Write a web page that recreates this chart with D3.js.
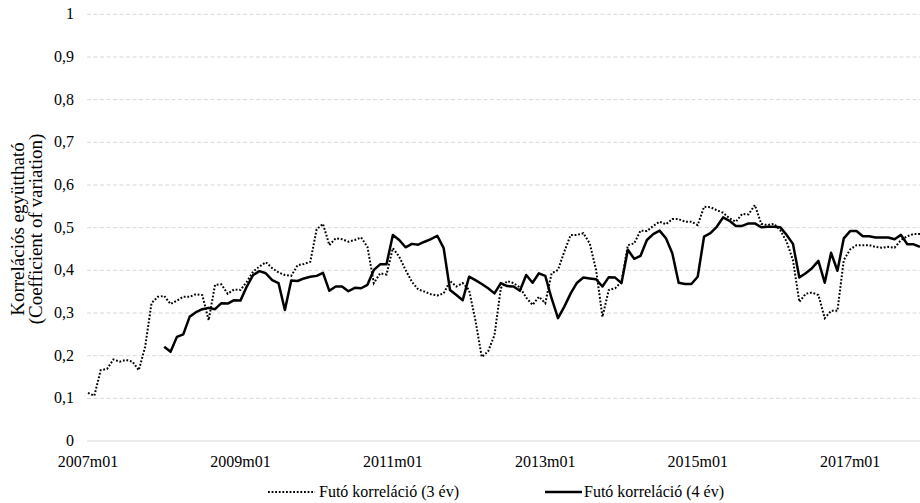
<!DOCTYPE html>
<html><head><meta charset="utf-8">
<script src="https://cdn.jsdelivr.net/npm/d3@7"></script>
<style>
body{margin:0;background:#fff;}
</style></head>
<body><svg id="c" width="920" height="503"></svg>
<script>
// categories: monthly 2007m01 .. 2017m12
const years = d3.range(2007, 2018);
const months = ["01","02","03","04","05","06","07","08","09","10","11","12"];
const categories = years.flatMap(y => months.map(m => y + "m" + m));
const xTickLabels = ["2007m01","2009m01","2011m01","2013m01","2015m01","2017m01"];
const yTicks = [0,0.1,0.2,0.3,0.4,0.5,0.6,0.7,0.8,0.9,1];

const series3 = [0.113,0.106,0.166,0.169,0.191,0.186,0.19,0.186,0.166,0.221,0.323,0.338,
0.34,0.321,0.329,0.338,0.338,0.344,0.342,0.283,0.366,0.367,0.345,0.355,
0.354,0.373,0.397,0.409,0.419,0.405,0.395,0.389,0.387,0.412,0.415,0.42,
0.496,0.509,0.459,0.475,0.473,0.467,0.471,0.477,0.455,0.37,0.393,0.39,
0.452,0.432,0.401,0.373,0.355,0.35,0.344,0.341,0.346,0.375,0.362,0.37,
0.354,0.283,0.197,0.21,0.248,0.358,0.375,0.37,0.36,0.336,0.319,0.338,
0.323,0.393,0.401,0.444,0.483,0.483,0.487,0.463,0.401,0.291,0.354,0.358,
0.373,0.459,0.463,0.493,0.492,0.504,0.514,0.508,0.52,0.52,0.514,0.514,
0.506,0.549,0.548,0.541,0.535,0.522,0.514,0.532,0.531,0.553,0.509,0.506,
0.509,0.494,0.467,0.424,0.326,0.345,0.348,0.342,0.288,0.305,0.305,0.424,
0.449,0.459,0.459,0.459,0.455,0.453,0.455,0.453,0.471,0.48,0.485,0.485];

// 4-year series starts at 2008m01
const series4Start = "2008m01";
const series4 = [0.221,0.209,0.244,0.25,0.291,0.302,0.309,0.312,0.309,0.323,0.322,0.33,
0.329,0.362,0.389,0.398,0.393,0.377,0.37,0.307,0.376,0.375,0.381,0.385,
0.387,0.394,0.352,0.362,0.362,0.351,0.359,0.358,0.366,0.401,0.414,0.414,
0.483,0.471,0.454,0.462,0.46,0.467,0.473,0.481,0.452,0.354,0.342,0.33,
0.385,0.377,0.368,0.358,0.346,0.37,0.363,0.362,0.352,0.389,0.371,0.393,
0.387,0.334,0.288,0.315,0.346,0.371,0.383,0.381,0.379,0.362,0.384,0.383,
0.37,0.448,0.427,0.434,0.471,0.485,0.493,0.475,0.44,0.371,0.368,0.368,
0.385,0.479,0.487,0.502,0.524,0.516,0.504,0.504,0.51,0.51,0.501,0.502,
0.502,0.501,0.483,0.462,0.383,0.393,0.405,0.422,0.371,0.441,0.399,0.475,
0.492,0.492,0.48,0.48,0.477,0.477,0.477,0.473,0.483,0.461,0.461,0.455];

const legendLabels = ["Futó korreláció (3 év)","Futó korreláció (4 év)"];

const FONT = "'Liberation Serif', 'DejaVu Serif', serif";
const svg = d3.select("#c").attr("font-family", FONT);
const x = d3.scalePoint().domain(categories).range([88, 920]);
const y = d3.scaleLinear().domain([0,1]).range([441, 14.3]);

// gridlines
svg.append("g").selectAll("line").data(yTicks).join("line")
  .attr("x1", 87).attr("x2", 920)
  .attr("y1", d => y(d)).attr("y2", d => y(d))
  .attr("stroke", "#d9d9d9").attr("stroke-width", 1)
  .attr("stroke-dasharray", d => d === 0 ? null : "4,2.5");

// y axis labels
const fmt = d => d === 0 ? "0" : d === 1 ? "1" : d3.format(".1f")(d).replace(".", ",");
svg.append("g").selectAll("text").data(yTicks).join("text")
  .attr("x", 74).attr("y", d => y(d)).attr("dy", "0.32em")
  .attr("text-anchor", "end").attr("font-size", 16).text(fmt);

// x axis labels
svg.append("g").selectAll("text").data(xTickLabels).join("text")
  .attr("x", d => x(d)).attr("y", 467)
  .attr("text-anchor", "middle").attr("font-size", 16).text(d => d);

// y axis title
const yt = svg.append("text").attr("transform", "translate(28,229) rotate(-90)")
  .attr("text-anchor", "middle").attr("font-size", 19);
yt.append("tspan").attr("x", 0).attr("dy", "-0.2em").text("Korrelációs együttható");
yt.append("tspan").attr("x", 0).attr("dy", "0.95em").text("(Coefficient of variation)");

const line = d3.line().x(d => x(d.c)).y(d => y(d.v));
const d3data = series3.map((v, i) => ({c: categories[i], v}));
const s4i = categories.indexOf(series4Start);
const d4data = series4.map((v, i) => ({c: categories[s4i + i], v}));

svg.append("path").datum(d3data).attr("d", line)
  .attr("fill", "none").attr("stroke", "#000").attr("stroke-width", 2)
  .attr("stroke-dasharray", "1.8,1.8");
svg.append("path").datum(d4data).attr("d", line)
  .attr("fill", "none").attr("stroke", "#000").attr("stroke-width", 2.5)
  .attr("stroke-linejoin", "round");

// legend
const lg = svg.append("g");
lg.append("line").attr("x1", 268).attr("x2", 315).attr("y1", 492).attr("y2", 492)
  .attr("stroke", "#000").attr("stroke-width", 2).attr("stroke-dasharray", "1.8,1.8");
lg.append("text").attr("x", 319).attr("y", 492).attr("dy", "0.32em").attr("font-size", 16).text(legendLabels[0]);
lg.append("line").attr("x1", 545).attr("x2", 582).attr("y1", 492).attr("y2", 492)
  .attr("stroke", "#000").attr("stroke-width", 2.5);
lg.append("text").attr("x", 584).attr("y", 492).attr("dy", "0.32em").attr("font-size", 16).text(legendLabels[1]);
</script></body></html>
